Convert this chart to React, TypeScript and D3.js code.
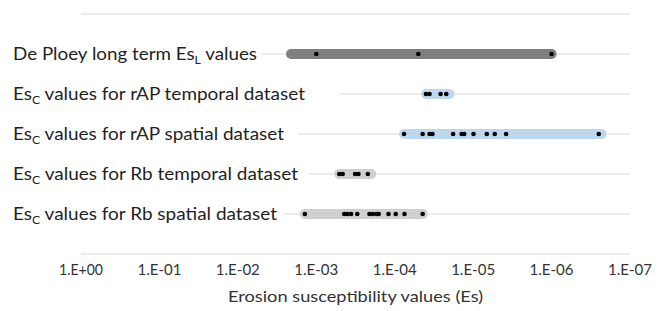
import * as d3 from "d3";

// rows, top to bottom
const rowNames = ["De Ploey long term", "rAP temporal", "rAP spatial", "Rb temporal", "Rb spatial"];
const rowLevel = [5, 4, 3, 2, 1];

// range bars (min / max Es) per row
const rangeHigh = [2.1e-3, 4.0e-5, 7.6e-5, 5.1e-4, 1.4e-3];
const rangeLow = [1.0e-6, 2.0e-5, 2.3e-7, 2.0e-4, 4.4e-5];

// individual Es values per row
const deploeyValues = [1.0e-3, 5.0e-5, 1.0e-6];
const rapTemporalValues = [4.0e-5, 3.6e-5, 2.6e-5, 2.2e-5];
const rapSpatialValues = [7.6e-5, 4.4e-5, 3.6e-5, 3.3e-5, 1.8e-5, 1.4e-5, 1.3e-5, 9.9e-6, 6.7e-6, 5.3e-6, 3.8e-6, 2.5e-7];
const rbTemporalValues = [5.1e-4, 4.6e-4, 3.2e-4, 2.9e-4, 2.2e-4];
const rbSpatialValues = [1.4e-3, 4.4e-4, 4.0e-4, 3.6e-4, 3.0e-4, 2.1e-4, 1.9e-4, 1.7e-4, 1.6e-4, 1.2e-4, 9.7e-5, 7.5e-5, 4.4e-5];
const rowValues = [deploeyValues, rapTemporalValues, rapSpatialValues, rbTemporalValues, rbSpatialValues];

const tickValues = [1, 1e-1, 1e-2, 1e-3, 1e-4, 1e-5, 1e-6, 1e-7];
const tickLabels = ["1.E+00", "1.E-01", "1.E-02", "1.E-03", "1.E-04", "1.E-05", "1.E-06", "1.E-07"];

const labels = [
  { pre: "De Ploey long term Es", sub: "L", post: " values" },
  { pre: "Es", sub: "C", post: " values for rAP temporal dataset" },
  { pre: "Es", sub: "C", post: " values for rAP spatial dataset" },
  { pre: "Es", sub: "C", post: " values for Rb temporal dataset" },
  { pre: "Es", sub: "C", post: " values for Rb spatial dataset" },
];

// styling / layout
const barColors = ["#7f7f7f", "#bdd7ee", "#bdd7ee", "#d0cece", "#d0cece"];
const labelWidths = [244, 292, 271, 285, 264];
const labelBoxRight = [262, 340, 298, 309, 283];

const W = 665;
const H = 311;

export default function App() {
  const x = d3.scaleLog().domain([1, 1e-7]).range([81, 630]);
  const y = d3.scaleLinear().domain([0, 6]).range([254, 14]);
  const font = "Lato, 'Open Sans', sans-serif";

  return (
    <svg width={W} height={H} style={{ position: "absolute", left: 0, top: 0, background: "#fff" }}>
      {d3.range(0, 7).map((g) => (
        <line key={g} x1={81} x2={630} y1={y(g)} y2={y(g)} stroke="#d9d9d9" strokeWidth={1.2} />
      ))}

      {rowNames.map((name, i) => (
        <g key={name}>
          <line
            x1={x(rangeHigh[i])}
            x2={x(rangeLow[i])}
            y1={y(rowLevel[i])}
            y2={y(rowLevel[i])}
            stroke={barColors[i]}
            strokeWidth={10}
            strokeLinecap="round"
          />
          {rowValues[i].map((v, j) => (
            <circle key={j} cx={x(v)} cy={y(rowLevel[i])} r={2.3} fill="#000" />
          ))}
        </g>
      ))}

      {labels.map((l, i) => (
        <g key={i}>
          <rect x={0} y={y(rowLevel[i]) - 14} width={labelBoxRight[i]} height={26} fill="#fff" />
          <text
            x={13}
            y={y(rowLevel[i]) + 6}
            fontFamily={font}
            fontSize={17}
            fill="#1f1f1f"
            textLength={labelWidths[i]}
            lengthAdjust="spacingAndGlyphs"
          >
            {l.pre}
            <tspan fontSize={11} dy={4}>{l.sub}</tspan>
            <tspan dy={-4}>{l.post}</tspan>
          </text>
        </g>
      ))}

      {tickValues.map((t, i) => (
        <text
          key={t}
          x={x(t)}
          y={275}
          textAnchor="middle"
          fontFamily={font}
          fontSize={16}
          fill="#333"
          textLength={44}
          lengthAdjust="spacingAndGlyphs"
        >
          {tickLabels[i]}
        </text>
      ))}

      <text
        x={(81 + 630) / 2}
        y={302}
        textAnchor="middle"
        fontFamily={font}
        fontSize={16}
        fill="#333"
        textLength={255}
        lengthAdjust="spacingAndGlyphs"
      >
        Erosion susceptibility values (Es)
      </text>
    </svg>
  );
}
